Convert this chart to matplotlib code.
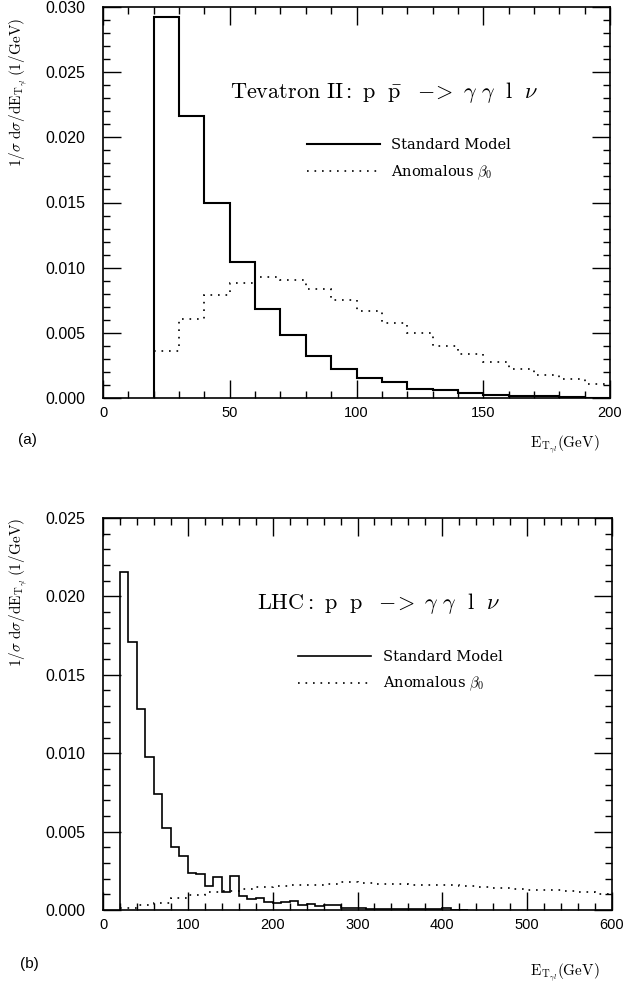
import numpy as np
import matplotlib
matplotlib.use("Agg")
import matplotlib.pyplot as plt
from matplotlib.ticker import MultipleLocator, FormatStrFormatter

plt.rcParams["mathtext.fontset"] = "cm"

# ---- panel (a): Tevatron II, 10 GeV bins from 20 to 200 GeV ----
tev_edges = np.arange(20, 210, 10)
tev_sm = [0.0292, 0.0216, 0.0150, 0.0104, 0.0068, 0.00483, 0.00325, 0.00225,
          0.00156, 0.00125, 0.00067, 0.00060, 0.00036, 0.00023, 0.00018,
          0.00015, 0.00005, 0.00003]
tev_anom = [0.00363, 0.00604, 0.00793, 0.00885, 0.0093, 0.00906, 0.00839,
            0.0075, 0.0067, 0.00578, 0.00496, 0.00399, 0.00338, 0.00279,
            0.0022, 0.00174, 0.00144, 0.00107]

# ---- panel (b): LHC ----
# Standard Model, 10 GeV bins from 20 to 430 GeV
lhc_sm_edges = np.arange(20, 440, 10)
lhc_sm = [0.02155, 0.0171, 0.0128, 0.00978, 0.0074, 0.00521, 0.0040, 0.00345,
          0.00238, 0.00228, 0.00150, 0.00210, 0.00117, 0.00220, 0.00089,
          0.00068, 0.00075, 0.00050,
          0.00045, 0.00050, 0.00055, 0.00035, 0.00040, 0.00025, 0.00030,
          0.00030, 0.00015, 0.00015, 0.00010, 0.00008, 0.00006, 0.00006,
          0.00005, 0.00005, 0.00004, 0.00004, 0.00005, 0.00004, 0.00015,
          0.00003, 0.00001]
# anomalous beta_0, 20 GeV bins from 20 to 600 GeV
lhc_anom_edges = np.append(np.arange(20, 600, 20), 600)
lhc_anom = [0.00012, 0.00035, 0.00047, 0.00075, 0.00095, 0.00112, 0.00120,
            0.00132, 0.00145, 0.00155, 0.00158, 0.00162, 0.00168, 0.00178,
            0.00172, 0.00167, 0.00165, 0.00162, 0.00162, 0.00160, 0.00155,
            0.00148, 0.00142, 0.00136, 0.00130, 0.00128, 0.00124, 0.00115,
            0.00105]

legend_labels = ["Standard Model", r"Anomalous $\beta_0$"]
ylab = r"$1/\sigma\ \mathrm{d}\sigma/\mathrm{dE}_{\mathrm{T}_{\gamma l}}\,(1/\mathrm{GeV})$"
xlab = r"$\mathrm{E}_{\mathrm{T}_{\gamma l}}(\mathrm{GeV})$"

W, H = 624, 983
fig = plt.figure(figsize=(W / 100, H / 100), dpi=100)

ax1 = fig.add_axes([103 / W, 1 - 398 / H, 507 / W, 391 / H])
ax2 = fig.add_axes([103 / W, 1 - 910 / H, 509 / W, 392 / H])

dot = (0, (1, 3.5))

ax1.stairs(tev_sm, tev_edges, baseline=0, color="black", lw=1.5, label=legend_labels[0])
ax1.stairs(tev_anom, tev_edges, baseline=None, color="black", lw=1.2, linestyle=dot,
           label=legend_labels[1])
ax1.set_xlim(0, 200)
ax1.set_ylim(0, 0.030)
ax1.xaxis.set_major_locator(MultipleLocator(50))
ax1.xaxis.set_minor_locator(MultipleLocator(10))
ax1.yaxis.set_major_locator(MultipleLocator(0.005))
ax1.yaxis.set_minor_locator(MultipleLocator(0.001))
ax1.text(0.2505, 0.781,
         r"$\mathrm{Tevatron\ II:\ p\ \ \bar{p}\ \ -\!\!>\ \gamma\ \gamma\ \ l\ \ \nu}$",
         transform=ax1.transAxes, fontsize=16, va="center", ha="left")
ax1.legend(loc="upper left", bbox_to_anchor=(0.402, 0.664), frameon=False,
           borderpad=0, borderaxespad=0, handlelength=5.0, handletextpad=0.8,
           labelspacing=0.75, prop={"family": "DejaVu Serif", "size": 10.5})

ax2.stairs(lhc_sm, lhc_sm_edges, baseline=0, color="black", lw=1.2, label=legend_labels[0])
ax2.stairs(lhc_anom, lhc_anom_edges, baseline=None, color="black", lw=1.2, linestyle=dot,
           label=legend_labels[1])
ax2.set_xlim(0, 600)
ax2.set_ylim(0, 0.025)
ax2.xaxis.set_major_locator(MultipleLocator(100))
ax2.xaxis.set_minor_locator(MultipleLocator(20))
ax2.yaxis.set_major_locator(MultipleLocator(0.005))
ax2.yaxis.set_minor_locator(MultipleLocator(0.001))
ax2.text(0.302, 0.783, r"$\mathrm{LHC:\ p\ \ p\ \ -\!\!>\ \gamma\ \gamma\ \ l\ \ \nu}$",
         transform=ax2.transAxes, fontsize=16, va="center", ha="left")
ax2.legend(loc="upper left", bbox_to_anchor=(0.383, 0.663), frameon=False,
           borderpad=0, borderaxespad=0, handlelength=5.0, handletextpad=0.8,
           labelspacing=0.75, prop={"family": "DejaVu Serif", "size": 10.5})

for ax in (ax1, ax2):
    ax.yaxis.set_major_formatter(FormatStrFormatter("%.3f"))
    ax.tick_params(which="both", direction="in", top=True, right=True, width=1.0,
                   colors="black")
    ax.tick_params(which="major", length=13)
    ax.tick_params(which="minor", length=5)
    ax.tick_params(axis="y", pad=13, labelsize=11.5)
    ax.tick_params(axis="x", pad=6, labelsize=10.5)
    for s in ax.spines.values():
        s.set_linewidth(1.2)
    for lab in ax.get_xticklabels() + ax.get_yticklabels():
        lab.set_family("Liberation Sans")

fig.text(18 / W, 1 - 18 / H, ylab, rotation=90, ha="center", va="top", fontsize=11)
fig.text(18 / W, 1 - 518 / H, ylab, rotation=90, ha="center", va="top", fontsize=11)
fig.text(565 / W, 1 - 444 / H, xlab, ha="center", va="center", fontsize=11)
fig.text(565 / W, 1 - 972 / H, xlab, ha="center", va="center", fontsize=11)
fig.text(18 / W, 1 - 440 / H, "(a)", ha="left", va="center", fontsize=11,
         family="Liberation Sans")
fig.text(20 / W, 1 - 964 / H, "(b)", ha="left", va="center", fontsize=11,
         family="Liberation Sans")

fig.savefig("out.png", dpi=100)
